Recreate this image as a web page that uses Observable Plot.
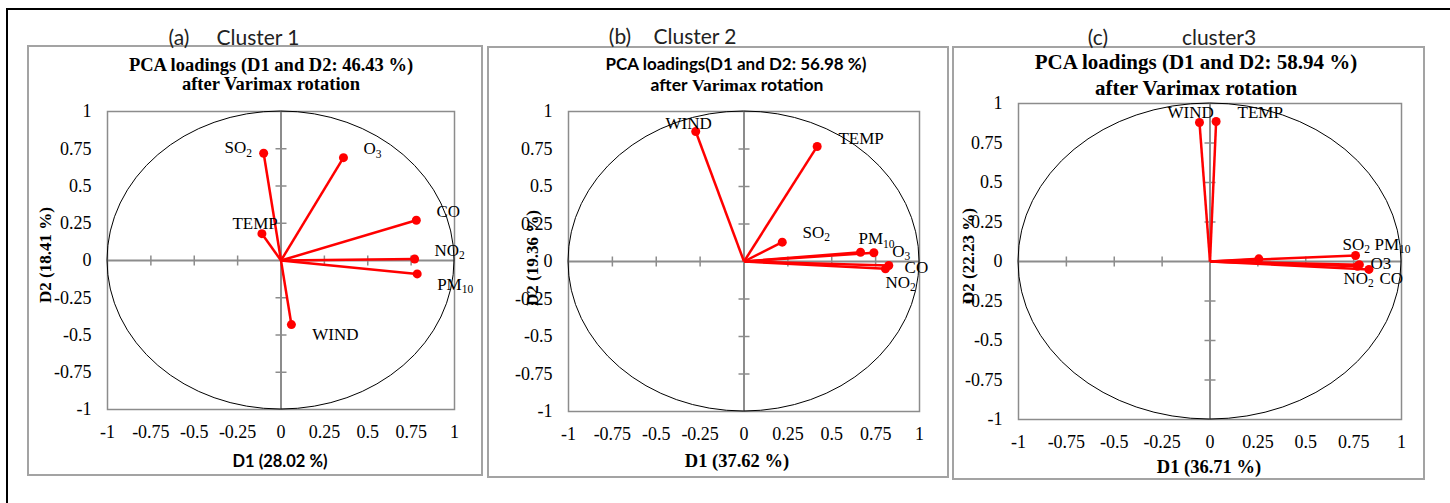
<!DOCTYPE html>
<html><head><meta charset="utf-8">
<script src="https://cdn.jsdelivr.net/npm/d3@7"></script>
<script src="https://cdn.jsdelivr.net/npm/@observablehq/plot@0.6"></script>
<style>
body{margin:0;background:#fff;}
#root{position:relative;width:1450px;height:503px;overflow:hidden;font-family:"Liberation Serif",serif;color:#000;}
.abs{position:absolute;white-space:nowrap;line-height:1;transform:translate(-50%,-50%);}
.box{position:absolute;box-sizing:border-box;border:2px solid #a3a3a3;}
.tb{font-family:"Liberation Serif",serif;font-weight:bold;}
.sb{font-family:"Lato","Open Sans",sans-serif;font-weight:bold;}
.lab{font-family:"Lato",sans-serif;font-weight:400;font-size:21px;color:#222;}
.plot{position:absolute;}
</style></head><body><div id="root"></div>
<script>
// ---------- data ----------
const tickVals = [-1, -0.75, -0.5, -0.25, 0, 0.25, 0.5, 0.75, 1];
const innerTicks = [-0.75, -0.5, -0.25, 0.25, 0.5, 0.75];

// Cluster 1
const namesA = ["SO_2", "O_3", "TEMP", "CO", "NO_2", "PM_10", "WIND"];
const d1A = [-0.10, 0.36, -0.11, 0.78, 0.77, 0.785, 0.06];
const d2A = [0.72, 0.69, 0.18, 0.27, 0.01, -0.09, -0.43];
const labXA = [-0.326, 0.475, -0.28, 0.896, 0.885, 0.90, 0.18];
const labYA = [0.755, 0.75, 0.25, 0.33, 0.067, -0.16, -0.50];

// Cluster 2
const namesB = ["WIND", "TEMP", "SO_2", "PM_10", "O_3", "CO", "NO_2"];
const d1B = [-0.275, 0.417, 0.218, 0.664, 0.74, 0.825, 0.806];
const d2B = [0.867, 0.767, 0.129, 0.062, 0.058, -0.027, -0.049];
const labXB = [-0.447, 0.538, 0.333, 0.652, 0.845, 0.915, 0.806];
const labYB = [0.923, 0.823, 0.193, 0.15, 0.067, -0.04, -0.14];

// Cluster 3
const namesC = ["WIND", "TEMP", "SO_2", "PM_10", "O3", "NO_2", "CO"];
const d1C = [-0.055, 0.032, 0.255, 0.76, 0.78, 0.77, 0.83];
const d2C = [0.88, 0.886, 0.017, 0.038, -0.02, -0.03, -0.05];
const labXC = [-0.222, 0.144, 0.692, 0.859, 0.838, 0.697, 0.885];
const labYC = [0.94, 0.94, 0.108, 0.108, -0.01, -0.108, -0.108];

// ---------- layout ----------
const root = document.getElementById("root");
function add(html, cls, x, y, extra) {
  const d = document.createElement("div");
  d.className = "abs " + (cls || "");
  d.style.left = x + "px"; d.style.top = y + "px";
  if (extra) d.style.cssText += extra;
  d.innerHTML = html;
  root.appendChild(d);
  return d;
}
function box(x, y, w, h, css) {
  const d = document.createElement("div");
  d.className = "box";
  d.style.left = x + "px"; d.style.top = y + "px"; d.style.width = w + "px"; d.style.height = h + "px";
  if (css) d.style.cssText += css;
  root.appendChild(d);
}
// outer frame
box(6, 8, 1470, 520, "border:none;border-top:2px solid #000;border-left:2px solid #000;");
// panel boxes
box(27, 45, 456, 431);
box(487, 46, 462, 432);
box(952, 46, 473, 434);

const vtick = {draw(ctx) { ctx.moveTo(0, -5); ctx.lineTo(0, 5); }};
const htick = {draw(ctx) { ctx.moveTo(-5.5, 0); ctx.lineTo(5.5, 0); }};

function panel(cfg) {
  const data = cfg.names.map((n, i) => ({name: n, x: cfg.d1[i], y: cfg.d2[i], lx: cfg.lx[i], ly: cfg.ly[i]}));
  const svg = Plot.plot({
    width: cfg.w, height: cfg.h,
    marginLeft: cfg.ml, marginRight: cfg.mr, marginTop: cfg.mt, marginBottom: cfg.mb,
    x: {domain: [-1, 1], ticks: tickVals, tickFormat: d => String(d), tickSize: 0, tickPadding: 16, label: null},
    y: {domain: [-1, 1], ticks: tickVals, tickFormat: d => String(d), tickSize: 0, tickPadding: 16, label: null},
    style: {fontFamily: "Liberation Serif", fontSize: "18px", color: "black", background: "none", overflow: "visible"},
    marks: [
      Plot.frame({stroke: "#8c8c8c", strokeWidth: 1.5}),
      Plot.ruleX([0], {stroke: "#8c8c8c", strokeWidth: 2}),
      Plot.ruleY([0], {stroke: "#8c8c8c", strokeWidth: 2}),
      Plot.dot(innerTicks, {x: d => d, y: () => 0, symbol: vtick, stroke: "#8c8c8c", strokeWidth: 1.5, fill: "none"}),
      Plot.dot(innerTicks, {x: () => 0, y: d => d, symbol: htick, stroke: "#8c8c8c", strokeWidth: 1.5, fill: "none"}),
      (index, scales) => {
        const e = document.createElementNS("http://www.w3.org/2000/svg", "ellipse");
        const cx = scales.x(0), cy = scales.y(0);
        e.setAttribute("cx", cx); e.setAttribute("cy", cy);
        e.setAttribute("rx", scales.x(1) - cx); e.setAttribute("ry", cy - scales.y(1));
        e.setAttribute("fill", "none"); e.setAttribute("stroke", "black"); e.setAttribute("stroke-width", 1);
        return e;
      },
      Plot.link(data, {x1: () => 0, y1: () => 0, x2: "x", y2: "y", stroke: "#ff0000", strokeWidth: 2.5}),
      Plot.dot(data, {x: "x", y: "y", r: 4.5, fill: "#ff0000"}),
      Plot.text(data, {x: "lx", y: "ly", text: "name", textAnchor: "start", fontSize: 17})
    ]
  });
  // subscripts
  svg.querySelectorAll("text").forEach(t => {
    const s = t.textContent;
    if (s.includes("_")) {
      const [a, b] = s.split("_");
      t.textContent = "";
      const t1 = document.createElementNS("http://www.w3.org/2000/svg", "tspan");
      t1.textContent = a;
      const t2 = document.createElementNS("http://www.w3.org/2000/svg", "tspan");
      t2.textContent = b; t2.setAttribute("dy", "0.3em"); t2.setAttribute("font-size", "11.5");
      t.appendChild(t1); t.appendChild(t2);
    }
  });
  const wrap = document.createElement("div");
  wrap.className = "plot";
  wrap.style.left = cfg.sx + "px"; wrap.style.top = cfg.sy + "px";
  wrap.appendChild(svg);
  root.appendChild(wrap);
}

panel({names: namesA, d1: d1A, d2: d2A, lx: labXA, ly: labYA, sx: 27, sy: 46, w: 456, h: 430, ml: 80, mr: 29, mt: 65, mb: 67});
panel({names: namesB, d1: d1B, d2: d2B, lx: labXB, ly: labYB, sx: 487, sy: 46, w: 462, h: 432, ml: 81, mr: 30, mt: 65, mb: 67});
panel({names: namesC, d1: d1C, d2: d2C, lx: labXC, ly: labYC, sx: 952, sy: 46, w: 473, h: 434, ml: 66, mr: 24, mt: 57, mb: 61});

// panel captions
add("(a)", "lab", 179, 36);
add("Cluster 1", "lab", 258, 36);
add("(b)", "lab", 620, 35);
add("Cluster 2", "lab", 695, 35);
add("(c)", "lab", 1098, 36);
add("cluster3", "lab", 1219, 36);

// titles
add("PCA loadings (D1 and D2: 46.43 %)", "tb", 271, 65, "font-size:18.5px;");
add("after Varimax rotation", "tb", 271, 84, "font-size:18.5px;");
add("PCA loadings(D1 and D2: 56.98 %)", "sb", 736, 63, "font-size:17px;");
add('<span class="sb">after</span> <span class="tb">Varimax</span> <span class="sb">rotation</span>', "", 737, 85, "font-size:17.5px;");
add("PCA loadings (D1 and D2: 58.94 %)", "tb", 1196, 62, "font-size:21px;");
add("after Varimax rotation", "tb", 1196, 88, "font-size:21px;");

// axis titles
add("D1 (28.02 %)", "sb", 280, 461, "font-size:16.5px;");
add("D1 (37.62 %)", "tb", 737, 461, "font-size:18.5px;");
add("D1 (36.71 %)", "tb", 1209, 467, "font-size:18.5px;");
add("D2 (18.41 %)", "tb", 45, 255, "font-size:17px;transform:translate(-50%,-50%) rotate(-90deg);");
add("D2 (19.36 %)", "tb", 532, 258, "font-size:17px;transform:translate(-50%,-50%) rotate(-90deg);");
add("D2 (22.23 %)", "tb", 968, 256, "font-size:17px;transform:translate(-50%,-50%) rotate(-90deg);");
</script></body></html>
